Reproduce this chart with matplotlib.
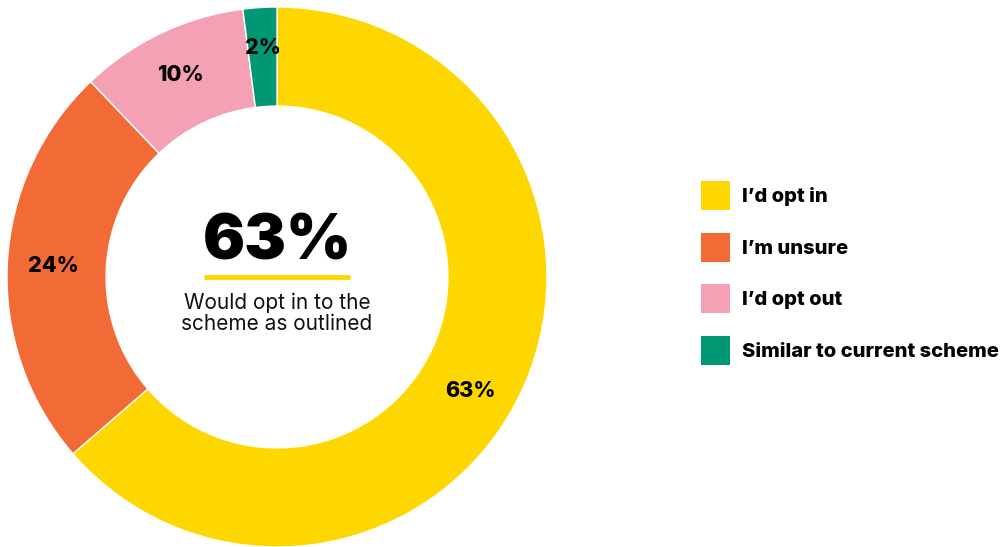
import numpy as np
import matplotlib.pyplot as plt

# survey responses
labels = ["I\u2019d opt in", "I\u2019m unsure", "I\u2019d opt out", "Similar to current scheme"]
shares = [63, 24, 10, 2]
colors = ["#FFD700", "#F26B36", "#F4A0B5", "#009774"]

headline = "63%"
headline_note = "Would opt in to the\nscheme as outlined"

plt.rcParams['font.family'] = ['Inter', 'DejaVu Sans']

fig = plt.figure(figsize=(10.05, 5.47), dpi=100)
ax = fig.add_axes([7 / 1005, 0, 540 / 1005, 540 / 547])

wedges, _ = ax.pie(shares, colors=colors, startangle=90, counterclock=False,
                   radius=1.0,
                   wedgeprops=dict(width=0.367, edgecolor='white', linewidth=1))
ax.set_xlim(-1, 1)
ax.set_ylim(-1, 1)
ax.set_aspect('equal')
ax.axis('off')

# percentage labels in the ring, the big slice label nudged down a little
for i, (w, v) in enumerate(zip(wedges, shares)):
    ang = np.deg2rad((w.theta1 + w.theta2) / 2)
    r = 0.83
    if i == 0:
        ang = np.deg2rad(-30.5)
    if v < 5:
        r = 0.85
    ax.text(r * np.cos(ang), r * np.sin(ang), f"{v}%", ha='center', va='center',
            fontsize=15.5, fontweight='heavy', color='black')

# centre callout
ax.text(0, 0.125, headline, ha='center', va='center', fontsize=45,
        fontweight='black', color='black')
ax.plot([-0.27, 0.27], [0, 0], color=colors[0], linewidth=3.5, solid_capstyle='butt')
ax.text(0, -0.135, headline_note, ha='center', va='center', fontsize=15,
        color='#111111', linespacing=1.05)

leg = fig.legend(wedges, labels, loc='center left',
                 bbox_to_anchor=(701 / 1005, 1 - 273 / 547),
                 frameon=False, prop=dict(size=14.5, weight='heavy'),
                 handlelength=1.44, handleheight=1.84, handletextpad=0.62,
                 labelspacing=1.12, borderpad=0, borderaxespad=0)
for h in leg.legend_handles:
    h.set_edgecolor('none')

fig.savefig('out.png', dpi=100)
